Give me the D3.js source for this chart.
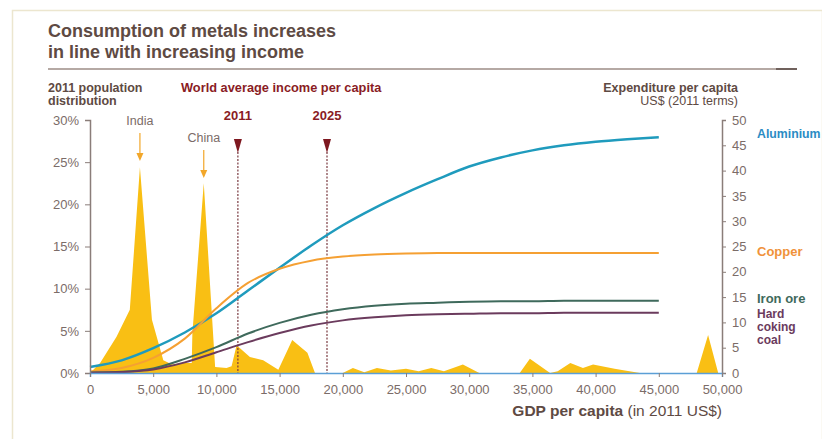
<!DOCTYPE html>
<html>
<head>
<meta charset="utf-8">
<script src="https://cdn.jsdelivr.net/npm/d3@7"></script>
<style>
  body { margin: 0; background: #fff; }
  svg { display: block; }
</style>
</head>
<body>
<svg id="chart"></svg>
<script>
// ─── Data ───
const gdpTicks = [0, 5000, 10000, 15000, 20000, 25000, 30000, 35000, 40000, 45000, 50000]
const pctTicks = [0, 5, 10, 15, 20, 25, 30]
const spendTicks = [0, 5, 10, 15, 20, 25, 30, 35, 40, 45, 50]

// 2011 population distribution: [GDP per capita, % of population]
const population = [
  [0, 0], [800, 1.2], [2100, 4.3], [3150, 7.5], [3950, 24.4], [4900, 6.3], [5800, 1.5],
  [6500, 1.0], [7300, 1.2], [8050, 1.2], [8100, 4.7], [9000, 22.5], [9900, 0.7],
  [10800, 0.6], [11200, 0.8], [11600, 3.3], [12650, 1.9], [13700, 1.5], [14900, 0.4],
  [16000, 3.9], [17200, 2.4], [17800, 0], [20000, 0], [20800, 0.6], [21700, 0.1],
  [22700, 0.6], [23800, 0.3], [25000, 0.5], [26000, 0.2], [27000, 0.6], [28000, 0.2],
  [29500, 1.0], [30800, 0], [34000, 0], [34800, 1.7], [36400, 0], [37000, 0.2],
  [38000, 1.2], [39000, 0.6], [39800, 1.0], [41500, 0.5], [43500, 0], [48000, 0],
  [48900, 4.5], [49700, 0]
]

const curveGdp = [0, 2500, 5000, 7500, 10000, 12500, 15000, 17500, 20000, 22500, 25000,
  27500, 30000, 32500, 35000, 37500, 40000, 42500, 45000]
const aluminium = [1.2, 2.5, 4.9, 8, 11.8, 16.3, 20.8, 25.2, 29.2, 32.6, 35.6, 38.3, 40.8, 42.6, 44, 45, 45.7, 46.2, 46.6]
const copper = [0.3, 1.0, 3.0, 6.8, 12.8, 17.8, 20.6, 22.2, 23, 23.4, 23.6, 23.7, 23.7, 23.7, 23.7, 23.7, 23.7, 23.7, 23.7]
const ironOre = [0.1, 0.25, 0.9, 2.8, 5.1, 7.8, 9.9, 11.5, 12.6, 13.3, 13.7, 13.9, 14.1, 14.2, 14.2, 14.3, 14.3, 14.3, 14.3]
const cokingCoal = [0.05, 0.2, 0.7, 2.1, 4.1, 6.1, 7.9, 9.4, 10.4, 11, 11.4, 11.6, 11.7, 11.8, 11.8, 11.9, 11.9, 11.9, 11.9]

const metals = [
  { name: 'Aluminium', values: aluminium, color: '#1f9bbd', label: ['Aluminium'] },
  { name: 'Copper', values: copper, color: '#f5a033', label: ['Copper'] },
  { name: 'Iron ore', values: ironOre, color: '#3f6a5c', label: ['Iron ore'] },
  { name: 'Hard coking coal', values: cokingCoal, color: '#6b3b5d', label: ['Hard', 'coking', 'coal'] },
]

const worldIncome = [{ year: '2011', gdp: 11700 }, { year: '2025', gdp: 18750 }]
const countries = [{ name: 'India', gdp: 3950, top: 133 }, { name: 'China', gdp: 9000, top: 150 }]

// ─── Layout ───
const width = 822, height = 439
const FONT = "'Liberation Sans', Arial, sans-serif"
const BROWN = '#5e4a43'
const GREY = '#7b6c68'
const DARKRED = '#8a1c24'

const svg = d3.select('#chart').attr('width', width).attr('height', height)

const x = d3.scaleLinear().domain([0, 50000]).range([90, 722])
const yPct = d3.scaleLinear().domain([0, 30]).range([373, 120])
const ySpend = d3.scaleLinear().domain([0, 50]).range([373, 120])

// frame
svg.append('rect')
  .attr('x', 12.5).attr('y', 10.5).attr('width', 810).attr('height', 440)
  .attr('fill', 'none').attr('stroke', '#ece6cf').attr('stroke-width', 1.5)

// ─── Title ───
svg.append('text').attr('x', 48).attr('y', 37)
  .attr('font-family', FONT).attr('font-size', 18).attr('font-weight', 'bold').attr('fill', BROWN)
  .selectAll('tspan').data(['Consumption of metals increases', 'in line with increasing income'])
  .join('tspan').attr('x', 48).attr('dy', (d, i) => i ? 21 : 0).text(d => d)

svg.append('line').attr('x1', 48).attr('x2', 797).attr('y1', 69).attr('y2', 69)
  .attr('stroke', '#9c8d86').attr('stroke-width', 1.5)
svg.append('line').attr('x1', 776).attr('x2', 797).attr('y1', 69).attr('y2', 69)
  .attr('stroke', '#5a4a44').attr('stroke-width', 1.5)

// axis titles
svg.append('text').attr('font-family', FONT).attr('font-size', 12.5).attr('font-weight', 'bold').attr('fill', BROWN)
  .selectAll('tspan').data(['2011 population', 'distribution']).join('tspan')
  .attr('x', 48).attr('y', (d, i) => 92 + i * 13).text(d => d)

svg.append('text').attr('x', 738).attr('y', 92).attr('text-anchor', 'end')
  .attr('font-family', FONT).attr('font-size', 12.5).attr('font-weight', 'bold').attr('fill', BROWN)
  .text('Expenditure per capita')
svg.append('text').attr('x', 738).attr('y', 105).attr('text-anchor', 'end')
  .attr('font-family', FONT).attr('font-size', 12.5).attr('fill', BROWN)
  .text('US$ (2011 terms)')

svg.append('text').attr('x', 181).attr('y', 92)
  .attr('font-family', FONT).attr('font-size', 12.8).attr('font-weight', 'bold').attr('fill', DARKRED)
  .text('World average income per capita')

// ─── Population area ───
svg.append('path')
  .datum(population)
  .attr('d', d3.area().x(d => x(d[0])).y0(yPct(0)).y1(d => yPct(d[1])))
  .attr('fill', '#f9bf14')

// ─── World income markers ───
const marker = svg.append('g').selectAll('g').data(worldIncome).join('g')
marker.append('line')
  .attr('x1', d => x(d.gdp)).attr('x2', d => x(d.gdp))
  .attr('y1', 152).attr('y2', yPct(0))
  .attr('stroke', '#7a3a40').attr('stroke-width', 1.2).attr('stroke-dasharray', '2,1.5')
marker.append('path')
  .attr('d', d => `M${x(d.gdp) - 4},139 L${x(d.gdp) + 4},139 L${x(d.gdp)},153 Z`)
  .attr('fill', '#7e1820')
marker.append('text')
  .attr('x', d => x(d.gdp)).attr('y', 120).attr('text-anchor', 'middle')
  .attr('font-family', FONT).attr('font-size', 13).attr('font-weight', 'bold').attr('fill', DARKRED)
  .text(d => d.year)

// ─── Metal curves ───
const line = d3.line().curve(d3.curveMonotoneX)
  .x((d, i) => x(curveGdp[i])).y(d => ySpend(d))

svg.append('g').selectAll('path').data(metals).join('path')
  .attr('d', d => line(d.values))
  .attr('fill', 'none')
  .attr('stroke', d => d.color)
  .attr('stroke-width', d => d.name === 'Aluminium' ? 2.5 : 2)

// ─── Country labels ───
const country = svg.append('g').selectAll('g').data(countries).join('g')
country.append('text')
  .attr('x', d => x(d.gdp)).attr('y', d => d.top - 8).attr('text-anchor', 'middle')
  .attr('font-family', FONT).attr('font-size', 12.5).attr('fill', GREY)
  .text(d => d.name)
country.append('line')
  .attr('x1', d => x(d.gdp)).attr('x2', d => x(d.gdp))
  .attr('y1', d => d.top).attr('y2', d => d.top + 26)
  .attr('stroke', '#f2a72a').attr('stroke-width', 1.2)
country.append('path')
  .attr('d', d => `M${x(d.gdp) - 3.5},${d.top + 20} L${x(d.gdp) + 3.5},${d.top + 20} L${x(d.gdp)},${d.top + 28} Z`)
  .attr('fill', '#f2a72a')

// ─── Axes ───
const styleAxis = g => {
  g.selectAll('.tick text').attr('font-family', FONT).attr('font-size', 13).attr('fill', GREY)
  g.selectAll('.tick line').attr('stroke', '#8a7d79')
}

svg.append('g').attr('transform', `translate(${x(0)},0)`)
  .call(d3.axisLeft(yPct).tickValues(pctTicks).tickSize(5).tickPadding(6).tickFormat(d => d + '%'))
  .call(g => g.select('.domain').attr('stroke', '#8a7d79').attr('stroke-width', 1.5))
  .call(styleAxis)

svg.append('g').attr('transform', `translate(${x(50000)},0)`)
  .call(d3.axisRight(ySpend).tickValues(spendTicks).tickSize(4).tickPadding(6))
  .call(g => g.select('.domain').attr('stroke', '#8a7d79').attr('stroke-width', 1.5))
  .call(styleAxis)

svg.append('g').attr('transform', `translate(0,${yPct(0)})`)
  .call(d3.axisBottom(x).tickValues(gdpTicks).tickSize(4).tickPadding(8).tickFormat(d3.format(',')))
  .call(g => g.select('.domain').attr('stroke', '#5b9fd6').attr('stroke-width', 1.5))
  .call(styleAxis)

const xTitle = svg.append('text').attr('x', 722).attr('y', 416).attr('text-anchor', 'end')
  .attr('font-family', FONT).attr('font-size', 15.5).attr('fill', BROWN)
xTitle.append('tspan').attr('font-weight', 'bold').text('GDP per capita ')
xTitle.append('tspan').text('(in 2011 US$)')

// ─── Series labels ───
const labelY = { 'Aluminium': 138, 'Copper': 256, 'Iron ore': 303, 'Hard coking coal': 318 }
const labelSize = { 'Aluminium': 12.3, 'Copper': 13, 'Iron ore': 13, 'Hard coking coal': 12 }
svg.append('g').selectAll('text').data(metals).join('text')
  .attr('x', 757).attr('y', d => labelY[d.name])
  .attr('font-family', FONT).attr('font-weight', 'bold')
  .attr('font-size', d => labelSize[d.name])
  .attr('fill', d => d.name === 'Copper' ? '#f0923a' : d.name === 'Aluminium' ? '#2b8cc4' : d.color)
  .selectAll('tspan').data(d => d.label).join('tspan')
  .attr('x', 757).attr('dy', (d, i) => i ? 13 : 0).text(d => d)
</script>
</body>
</html>
